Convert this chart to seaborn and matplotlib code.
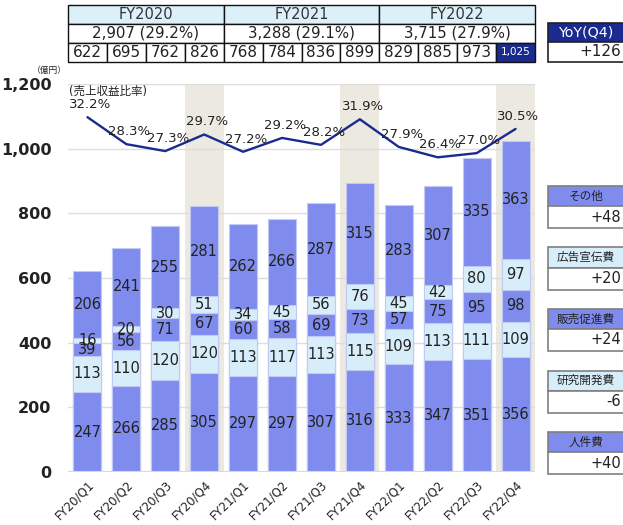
import numpy as np
import pandas as pd
import seaborn as sns
import matplotlib
matplotlib.use("Agg")
import matplotlib.pyplot as plt
from matplotlib.patches import Rectangle

# ---------------- data ----------------
quarters = ["FY20/Q1", "FY20/Q2", "FY20/Q3", "FY20/Q4",
            "FY21/Q1", "FY21/Q2", "FY21/Q3", "FY21/Q4",
            "FY22/Q1", "FY22/Q2", "FY22/Q3", "FY22/Q4"]
personnel = [247, 266, 285, 305, 297, 297, 307, 316, 333, 347, 351, 356]   # 人件費
rnd       = [113, 110, 120, 120, 113, 117, 113, 115, 109, 113, 111, 109]   # 研究開発費
promo     = [39, 56, 71, 67, 60, 58, 69, 73, 57, 75, 95, 98]               # 販売促進費
advert    = [16, 20, 30, 51, 34, 45, 56, 76, 45, 42, 80, 97]               # 広告宣伝費
other     = [206, 241, 255, 281, 262, 266, 287, 315, 283, 307, 335, 363]   # その他
ratio     = [32.2, 28.3, 27.3, 29.7, 27.2, 29.2, 28.2, 31.9, 27.9, 26.4, 27.0, 30.5]
highlight_q = ["FY20/Q4", "FY21/Q4", "FY22/Q4"]

fy_labels = ["FY2020", "FY2021", "FY2022"]
fy_totals = ["2,907 (29.2%)", "3,288 (29.1%)", "3,715 (27.9%)"]
quarter_totals = ["622", "695", "762", "826", "768", "784", "836", "899",
                  "829", "885", "973", "1,025"]
yoy_title = "YoY(Q4)"
yoy_total = "+126"
cat_names = ["その他", "広告宣伝費", "販売促進費", "研究開発費", "人件費"]
cat_yoy = ["+48", "+20", "+24", "-6", "+40"]
yticks = [0, 200, 400, 600, 800, 1000, 1200]

# ---------------- style ----------------
PURPLE = "#7f8cee"
LIGHT = "#d7eefa"
NAVY = "#1a2a8e"
BAND = "#ebe9e0"
TXT = "#222222"

sns.set_style("white")
plt.rcParams["font.family"] = ["DejaVu Sans", "Noto Sans CJK JP"]

W, H = 623, 525
fig = plt.figure(figsize=(W / 100, H / 100), dpi=100)

def fx(px):
    return px / W

def fy(py):
    return (H - py) / H

ax_l, ax_r, ax_t, ax_b = 68, 535, 84, 472
ax = fig.add_axes([fx(ax_l), fy(ax_b), fx(ax_r - ax_l), (ax_b - ax_t) / H])

layers = [personnel, rnd, promo, advert, other]
colors = [PURPLE, LIGHT, PURPLE, LIGHT, PURPLE]
cum = np.cumsum(np.array(layers), axis=0)

# draw cumulative bars back-to-front
for k in range(len(layers) - 1, -1, -1):
    sns.barplot(x=quarters, y=cum[k], color=colors[k], saturation=1,
                width=0.72, errorbar=None, edgecolor="#c3c9f5",
                linewidth=0.8, ax=ax, zorder=3)

# highlight bands for Q4
for q in highlight_q:
    i = quarters.index(q)
    ax.axvspan(i - 0.5, i + 0.5, color=BAND, zorder=0, lw=0)

# segment labels
for k, vals in enumerate(layers):
    bottoms = cum[k] - np.array(vals)
    for i, v in enumerate(vals):
        ax.text(i, bottoms[i] + v / 2, str(v), ha="center", va="center",
                fontsize=10.5, color=TXT, zorder=5)

ax.set_xlim(-0.5, len(quarters) - 0.5)
ax.set_ylim(0, 1200)
ax.set_yticks(yticks)
ax.set_yticklabels([f"{t:,}" for t in yticks], fontsize=11.5, fontweight="bold", color=TXT)
ax.grid(axis="y", color="#dddddd", lw=1, zorder=1)
ax.grid(axis="x", visible=False)
ax.set_axisbelow(True)
ax.axhline(0, color="#d9d9d9", lw=2.2, zorder=4)
for s in ax.spines.values():
    s.set_visible(False)
ax.tick_params(axis="y", length=0, pad=12)
ax.tick_params(axis="x", length=0, pad=4)
ax.set_xticks(range(len(quarters)))
ax.set_xticklabels(quarters, rotation=45, ha="right", rotation_mode="anchor",
                   fontsize=8.5, color=TXT)
ax.set_xlabel("")
ax.set_ylabel("")

# ratio line on twin axis
ax2 = ax.twinx()
sns.lineplot(x=np.arange(len(ratio)), y=ratio, color=NAVY, lw=1.7, ax=ax2, zorder=6)
ax2.set_ylim(-19.1, 37.0)
ax2.set_xlim(-0.5, len(quarters) - 0.5)
ax2.axis("off")
for i, r in enumerate(ratio):
    ax2.annotate(f"{r:.1f}%", (i, r), xytext=(2, 9), textcoords="offset points",
                 ha="center", va="center", fontsize=9.5, color=TXT, zorder=7)

fig.text(fx(49), fy(70), "（億円）", ha="center", va="center", fontsize=6.3, color=TXT)
fig.text(fx(69), fy(91), "(売上収益比率)", ha="left", va="center", fontsize=8.3, color=TXT)

# ---------------- top table ----------------
tab = fig.add_axes([fx(ax_l), fy(62), fx(ax_r - ax_l), (62 - 5) / H])
tab.set_xlim(-0.5, len(quarters) - 0.5)
tab.set_ylim(0, 3)
tab.axis("off")
for j, (lab, tot) in enumerate(zip(fy_labels, fy_totals)):
    x0 = -0.5 + 4 * j
    tab.add_patch(Rectangle((x0, 2), 4, 1, facecolor="#dcf0fa", edgecolor="#111111", lw=1, clip_on=False))
    tab.text(x0 + 2, 2.5, lab, ha="center", va="center", fontsize=10.5, color="#333333")
    tab.add_patch(Rectangle((x0, 1), 4, 1, facecolor="white", edgecolor="#111111", lw=1, clip_on=False))
    tab.text(x0 + 2, 1.5, tot, ha="center", va="center", fontsize=10.8, color="#222222")
for i, t in enumerate(quarter_totals):
    last = i == len(quarter_totals) - 1
    tab.add_patch(Rectangle((i - 0.5, 0), 1, 1, facecolor=NAVY if last else "white",
                            edgecolor="#111111", lw=1, clip_on=False))
    tab.text(i, 0.5, t, ha="center", va="center",
             fontsize=7.5 if last else 11, color="white" if last else "#222222")

# ---------------- side boxes ----------------
def box(x0, y0, x1, y1, fc, ec="#7f7f7f", lw=1.2):
    fig.add_artist(Rectangle((fx(x0), fy(y1)), fx(x1 - x0), (y1 - y0) / H,
                             facecolor=fc, edgecolor=ec, lw=lw, transform=fig.transFigure))

# YoY total
box(548, 23, 630, 42, NAVY, ec="#222222")
box(548, 42, 630, 62, "white", ec="#222222")
fig.text(fx(586), fy(32.5), yoy_title, ha="center", va="center", fontsize=10.3, color="white")
fig.text(fx(621), fy(52), yoy_total, ha="right", va="center", fontsize=11, color="#222222")

head_cols = [PURPLE, LIGHT, PURPLE, LIGHT, PURPLE]
for k, (nm, val) in enumerate(zip(cat_names, cat_yoy)):
    y0 = 186 + 61.5 * k
    box(548, y0, 630, y0 + 20, head_cols[k])
    box(548, y0 + 20, 630, y0 + 42, "white")
    fig.text(fx(586), fy(y0 + 10), nm, ha="center", va="center", fontsize=8.4, color="#222222")
    fig.text(fx(621), fy(y0 + 31), val, ha="right", va="center", fontsize=10.5, color="#222222")

fig.savefig("out.png", dpi=100)
